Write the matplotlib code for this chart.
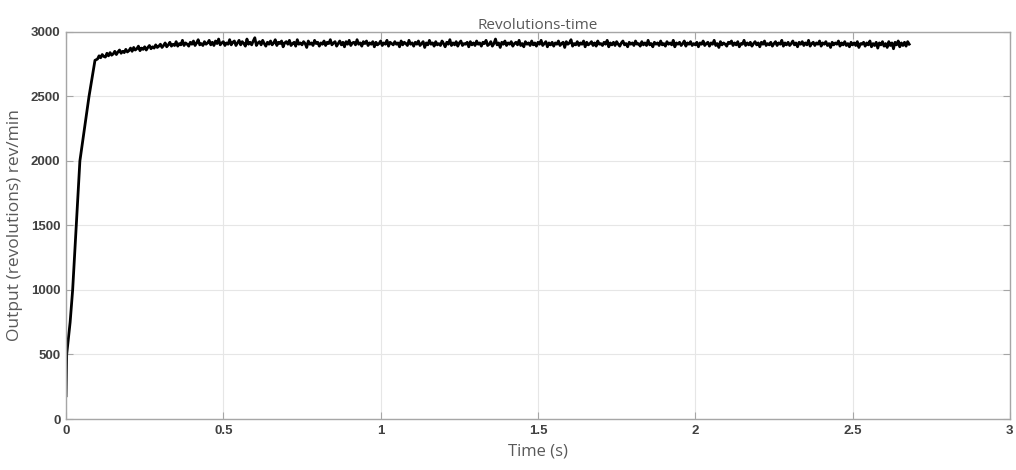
import numpy as np
import matplotlib
matplotlib.use('Agg')
import matplotlib.pyplot as plt

# start-up ramp
t_rise = [0.0, 0.002, 0.013, 0.021, 0.044, 0.073, 0.092]
v_rise = [180, 500, 750, 1000, 2000, 2500, 2780]

# steady part, one sample about every 0.005 s from 0.10 s to 2.68 s
v_steady = [
    2790, 2815, 2800, 2825, 2810, 2805, 2835, 2815, 2840, 2820,
    2830, 2850, 2825, 2845, 2860, 2835, 2850, 2840, 2865, 2845,
    2855, 2875, 2850, 2880, 2860, 2870, 2890, 2855, 2875, 2865,
    2885, 2860, 2880, 2895, 2870, 2885, 2875, 2900, 2880, 2890,
    2905, 2880, 2895, 2915, 2885, 2900, 2920, 2890, 2905, 2895,
    2925, 2890, 2910, 2900, 2935, 2895, 2915, 2905, 2890, 2920,
    2905, 2930, 2895, 2915, 2940, 2900, 2910, 2895, 2925, 2905,
    2915, 2935, 2900, 2920, 2895, 2930, 2910, 2945, 2900, 2915,
    2925, 2895, 2915, 2905, 2940, 2900, 2920, 2930, 2895, 2915,
    2935, 2900, 2925, 2910, 2890, 2945, 2905, 2920, 2900, 2930,
    2955, 2895, 2915, 2925, 2900, 2935, 2910, 2890, 2920, 2905,
    2930, 2900, 2915, 2940, 2895, 2920, 2910, 2930, 2885, 2915,
    2925, 2905, 2935, 2895, 2910, 2920, 2890, 2940, 2905, 2915,
    2900, 2925, 2910, 2880, 2930, 2905, 2915, 2895, 2935, 2910,
    2920, 2890, 2915, 2905, 2930, 2895, 2920, 2910, 2940, 2900,
    2915, 2925, 2890, 2910, 2930, 2900, 2920, 2885, 2925, 2905,
    2935, 2895, 2915, 2920, 2900, 2940, 2905, 2915, 2890, 2925,
    2910, 2930, 2895, 2915, 2905, 2925, 2885, 2920, 2900, 2910,
    2930, 2895, 2915, 2905, 2935, 2890, 2920, 2910, 2900, 2925,
    2905, 2915, 2885, 2930, 2900, 2920, 2910, 2895, 2935, 2905,
    2915, 2890, 2920, 2905, 2930, 2895, 2910, 2925, 2880, 2915,
    2900, 2935, 2905, 2915, 2890, 2925, 2900, 2910, 2895, 2930,
    2910, 2885, 2920, 2905, 2940, 2895, 2915, 2900, 2925, 2890,
    2915, 2930, 2895, 2910, 2905, 2920, 2885, 2925, 2900, 2915,
    2895, 2930, 2905, 2915, 2890, 2920, 2910, 2935, 2895, 2905,
    2925, 2890, 2910, 2945, 2900, 2915, 2880, 2920, 2905, 2930,
    2895, 2915, 2905, 2925, 2890, 2910, 2920, 2900, 2935, 2895,
    2910, 2885, 2925, 2905, 2915, 2895, 2930, 2900, 2915, 2890,
    2920, 2905, 2935, 2895, 2910, 2925, 2885, 2915, 2900, 2920,
    2890, 2915, 2905, 2930, 2895, 2910, 2920, 2880, 2925, 2905,
    2915, 2940, 2890, 2910, 2900, 2925, 2895, 2915, 2905, 2930,
    2885, 2920, 2900, 2910, 2925, 2895, 2915, 2890, 2930, 2905,
    2910, 2895, 2920, 2905, 2935, 2885, 2915, 2900, 2920, 2895,
    2925, 2905, 2890, 2915, 2930, 2900, 2910, 2885, 2920, 2905,
    2915, 2895, 2930, 2905, 2910, 2890, 2925, 2900, 2915, 2895,
    2935, 2900, 2910, 2885, 2920, 2905, 2915, 2895, 2930, 2900,
    2910, 2890, 2925, 2905, 2915, 2900, 2935, 2885, 2915, 2905,
    2920, 2895, 2910, 2930, 2890, 2915, 2905, 2925, 2895, 2910,
    2900, 2920, 2885, 2915, 2905, 2930, 2895, 2910, 2920, 2890,
    2915, 2905, 2935, 2895, 2910, 2880, 2925, 2900, 2915, 2905,
    2890, 2920, 2910, 2930, 2895, 2915, 2900, 2925, 2885, 2910,
    2905, 2935, 2895, 2915, 2900, 2920, 2890, 2910, 2925, 2900,
    2915, 2885, 2920, 2905, 2930, 2895, 2910, 2900, 2920, 2890,
    2910, 2925, 2895, 2915, 2905, 2935, 2890, 2915, 2900, 2920,
    2895, 2910, 2930, 2900, 2915, 2885, 2920, 2905, 2925, 2895,
    2915, 2900, 2935, 2890, 2910, 2920, 2895, 2915, 2905, 2930,
    2890, 2915, 2905, 2925, 2895, 2910, 2880, 2920, 2900, 2915,
    2905, 2930, 2890, 2915, 2900, 2925, 2895, 2910, 2885, 2920,
    2900, 2915, 2895, 2925, 2880, 2910, 2905, 2920, 2890, 2915,
    2900, 2930, 2885, 2910, 2895, 2920, 2875, 2915, 2900, 2925,
    2890, 2910, 2880, 2925, 2895, 2915, 2870, 2920, 2900, 2930,
    2885, 2915, 2895, 2920, 2890, 2925, 2905,
]
t_steady = np.linspace(0.10, 2.68, len(v_steady))

t = np.concatenate([t_rise, t_steady])
v = np.concatenate([v_rise, v_steady])

tick_col = '#404040'
label_col = '#595959'

fig = plt.figure(figsize=(10.16, 4.70), dpi=100)
ax = fig.add_axes([0.065, 0.1085, 0.929, 0.8235])

ax.plot(t, v, color='black', linewidth=2.0)

ax.set_xlim(0, 3)
ax.set_ylim(0, 3000)
ax.set_xticks([0, 0.5, 1, 1.5, 2, 2.5, 3])
ax.set_xticklabels(['0', '0.5', '1', '1.5', '2', '2.5', '3'])
ax.set_yticks([0, 500, 1000, 1500, 2000, 2500, 3000])

ax.grid(True, color='#e6e6e6', linewidth=0.8)
ax.set_axisbelow(True)
for s in ax.spines.values():
    s.set_color('#a6a6a6')
    s.set_linewidth(1.0)
ax.tick_params(direction='in', length=5, width=0.8, color='#a6a6a6',
               top=True, right=True, labelsize=9.5, labelcolor=tick_col, pad=4)
for lab in ax.get_xticklabels() + ax.get_yticklabels():
    lab.set_fontweight('bold')
    lab.set_fontfamily('Liberation Sans')

ax.set_title('Revolutions-time', fontsize=11, color=label_col,
             fontfamily='Open Sans', pad=2)
ax.set_xlabel('Time (s)', fontsize=12, color=label_col, fontfamily='Open Sans', labelpad=5)
ax.set_ylabel('Output (revolutions) rev/min', fontsize=12.5, color=label_col,
              fontfamily='Open Sans', labelpad=6)

fig.savefig('out.png', dpi=100)
